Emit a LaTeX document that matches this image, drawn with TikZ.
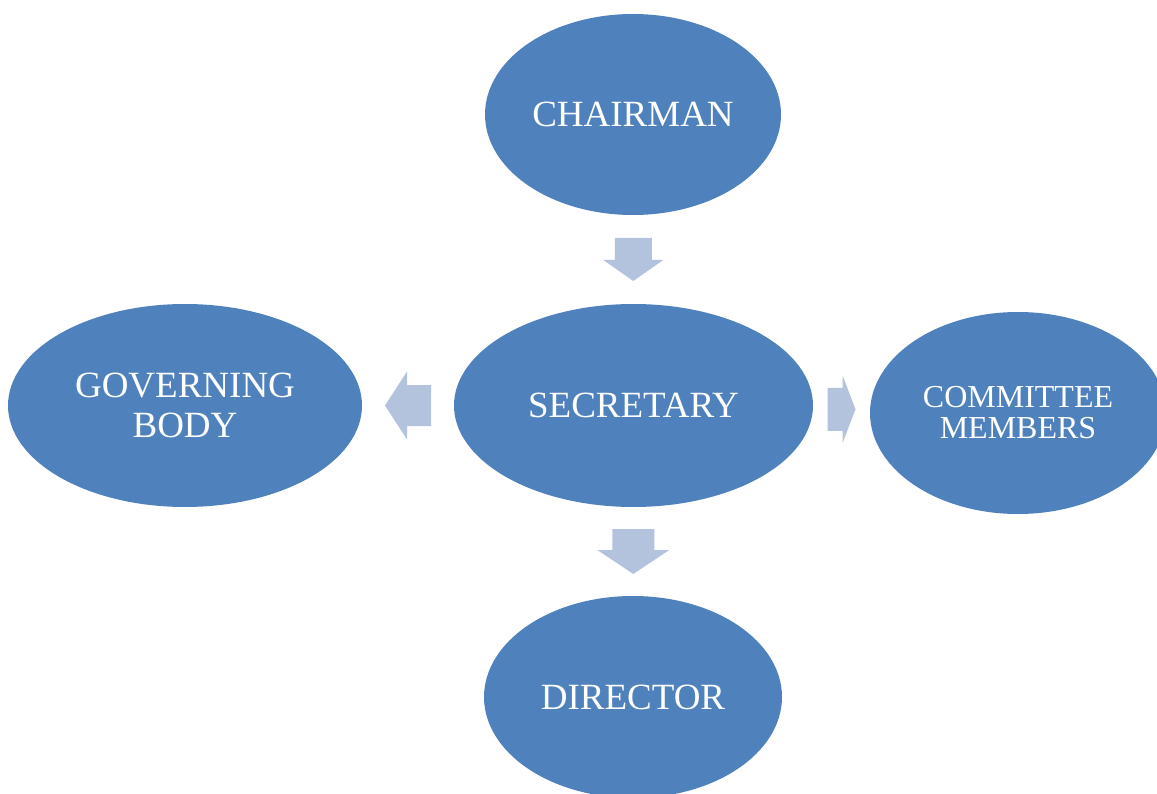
\documentclass[tikz,border=0pt]{standalone}
\usepackage{fontspec}
\setmainfont{Liberation Serif}
\usetikzlibrary{shapes.geometric,calc}
\definecolor{ovalblue}{HTML}{4F81BD}
\definecolor{arrowblue}{HTML}{B3C3DE}
\begin{document}
\begin{tikzpicture}[x=1pt,y=-1pt,
  oval/.style={ellipse,fill=ovalblue,text=white,inner sep=0pt,align=center,
    font=\fontsize{37}{40}\selectfont}]
\useasboundingbox (0,0) rectangle (1157,794);
\node[oval,minimum width=296pt,minimum height=201pt] (chair) at (633,114.5) {CHAIRMAN};
\node[oval,minimum width=359pt,minimum height=203pt] (sec) at (633.5,405.5) {SECRETARY};
\node[oval,minimum width=354pt,minimum height=203pt] (gov) at (185,405.5) {GOVERNING\\BODY};
\node[oval,minimum width=296pt,minimum height=202pt,font=\fontsize{32}{31}\selectfont] (comm) at (1018,413) {COMMITTEE\\MEMBERS};
\node[oval,minimum width=298pt,minimum height=202pt] (dir) at (633,697) {DIRECTOR};
% block arrows: source/target/direction/length/shaft/head width/head length
\foreach \src/\dst/\ang/\len/\sw/\hw/\hl [evaluate=\ang as \back using int(\ang+180)] in
  {chair/sec/-90/43/37/60/21, sec/gov/180/46/41/68/22, sec/comm/0/28/43/68/13, sec/dir/-90/45/42/72/24}
{
  \coordinate (mid) at ($(\src.\ang)!0.5!(\dst.\back)$);
  \fill[arrowblue,shift={(mid)},rotate=\ang] (-\len/2,-\sw/2) -- (\len/2-\hl,-\sw/2) -- (\len/2-\hl,-\hw/2)
    -- (\len/2,0) -- (\len/2-\hl,\hw/2) -- (\len/2-\hl,\sw/2) -- (-\len/2,\sw/2) -- cycle;
}
\end{tikzpicture}
\end{document}
